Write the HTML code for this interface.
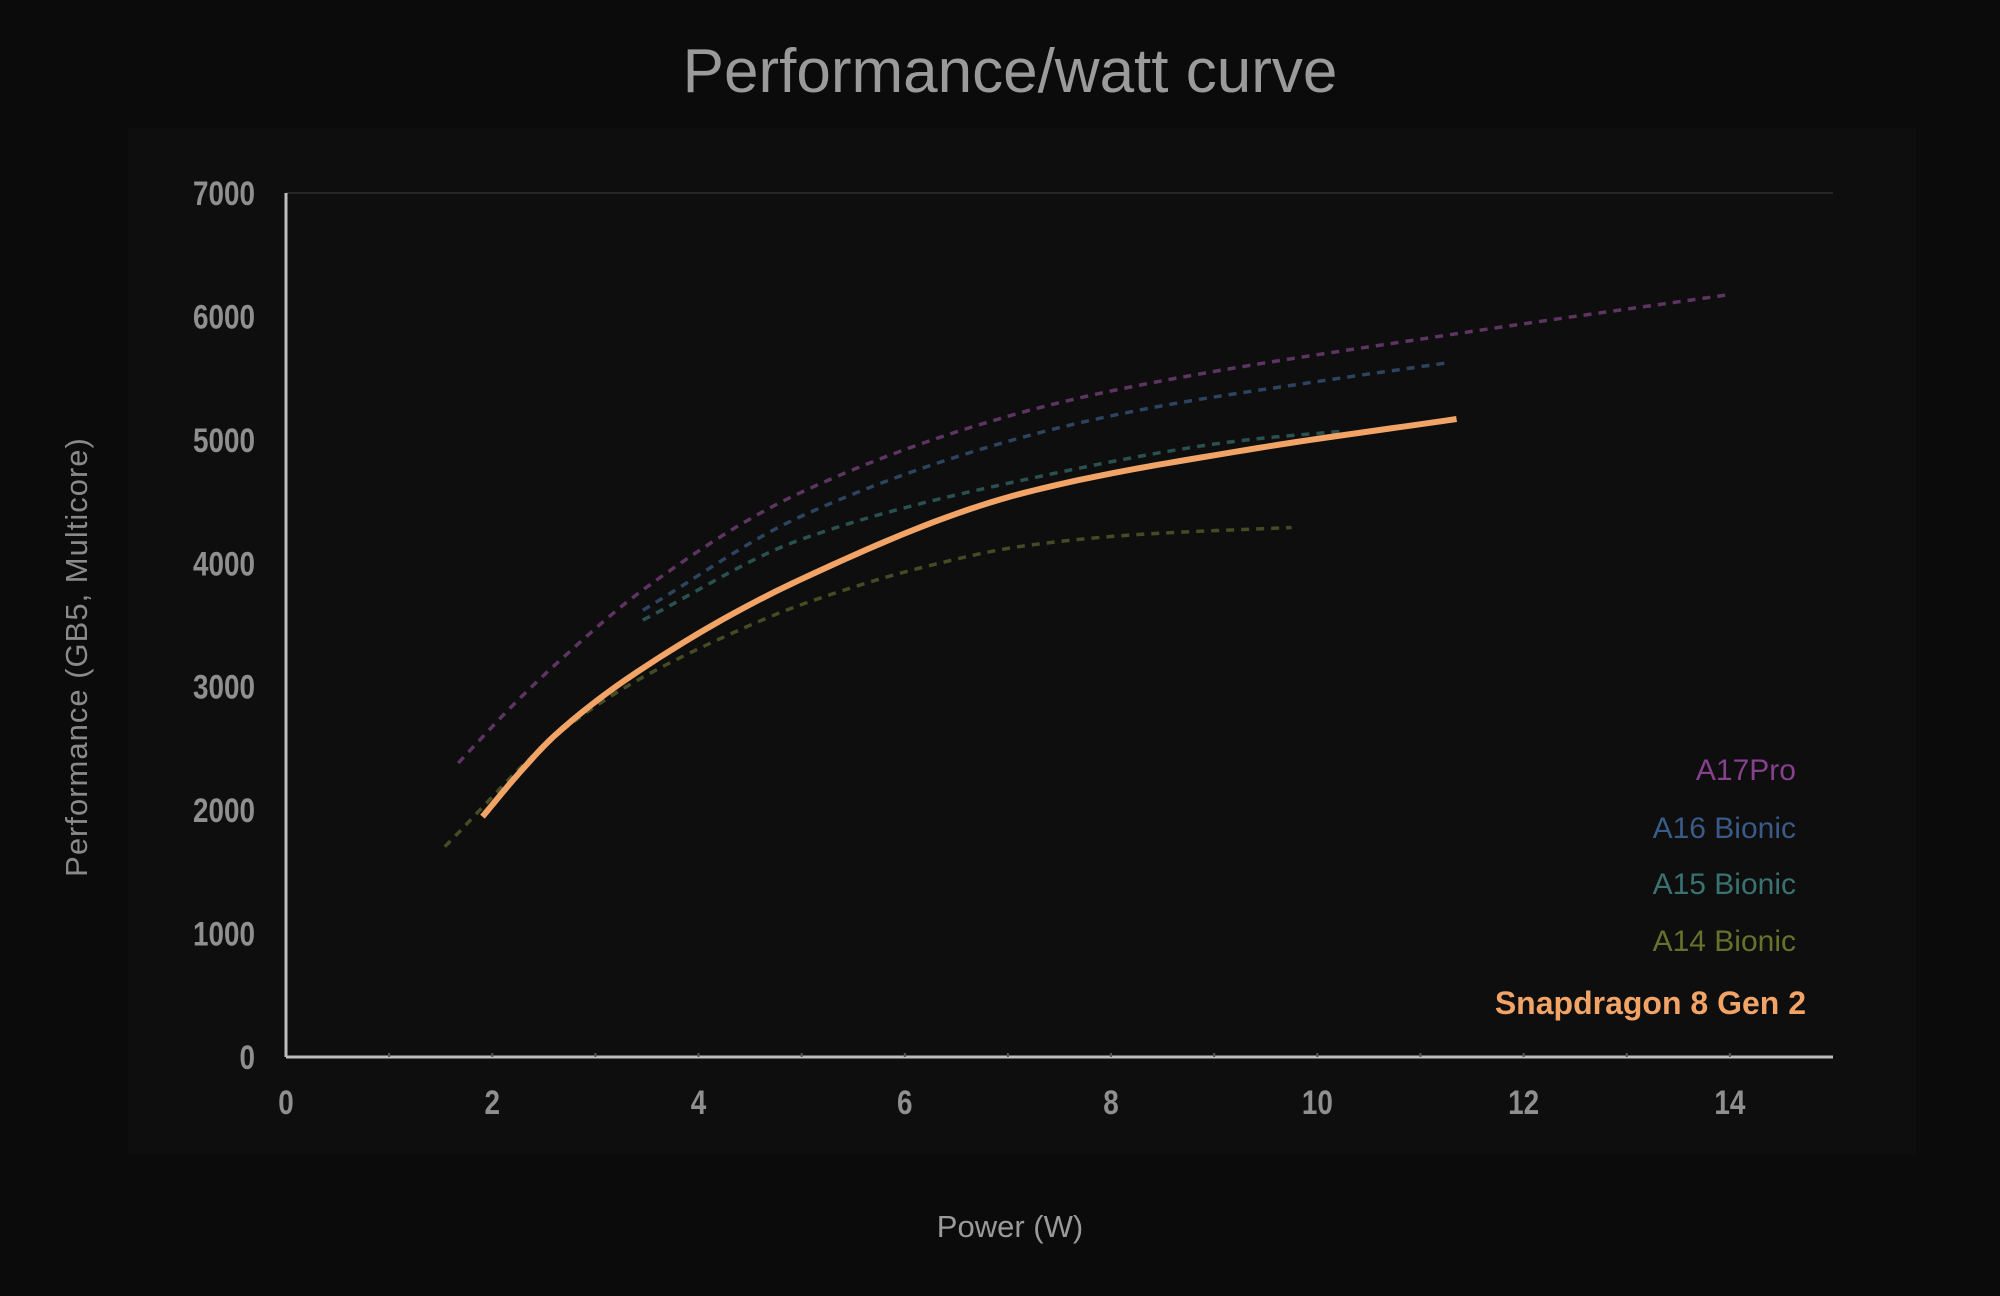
<!DOCTYPE html>
<html><head><meta charset="utf-8"><style>
html,body{margin:0;padding:0;background:#0b0b0b;}
svg{display:block;}
</style></head><body>
<svg id="chart" width="2000" height="1296" viewBox="0 0 2000 1296" xmlns="http://www.w3.org/2000/svg">
<rect x="0" y="0" width="2000" height="1296" fill="#0b0b0b"/>
<rect x="128" y="128" width="1788" height="1026" fill="#0e0e0e"/>
<text x="1010" y="92" text-anchor="middle" font-family="Liberation Sans, sans-serif" font-size="62" fill="#9a9a9a">Performance/watt curve</text>
<text transform="translate(87,657) rotate(-90)" text-anchor="middle" font-family="Liberation Sans, sans-serif" font-size="31" letter-spacing="1" fill="#8a8a8a">Performance (GB5, Multicore)</text>
<text x="1010" y="1237" text-anchor="middle" font-family="Liberation Sans, sans-serif" font-size="31" fill="#9a9a9a">Power (W)</text>
<g id="axes"></g>
<g id="series"></g>
<g id="legend"></g>
</svg>
<script>
const xTicks = [0,2,4,6,8,10,12,14];
const yTicks = [0,1000,2000,3000,4000,5000,6000,7000];
const a17x = [1.67,2.2,2.6,3.46,4.98,7.15,8.38,11.27,14.02];
const a17y = [2382,2850,3170,3784,4569,5226,5460,5850,6180];
const a16x = [3.46,4.98,7.15,8.38,10.1,11.27];
const a16y = [3620,4375,5023,5258,5485,5625];
const a15x = [3.46,4.98,7.15,9.31,10.27];
const a15y = [3540,4189,4675,4999,5072];
const a14x = [1.54,2.6,3.3,4.33,4.98,6.28,7.15,8.3,9.75];
const a14y = [1704,2593,3000,3435,3660,3990,4140,4235,4290];
const sdx = [1.905,2.25,2.6,3.46,4.98,7.15,9.31,11.35];
const sdy = [1947,2290,2600,3150,3865,4569,4918,5169];
const legendNames = ["A17Pro","A16 Bionic","A15 Bionic","A14 Bionic","Snapdragon 8 Gen 2"];

const NS="http://www.w3.org/2000/svg";
const X0=286, X1=1833, XMAX=15, Y0=1057, YT=193, YMAX=7000;
const sx=v=>X0+(v/XMAX)*(X1-X0);
const sy=v=>Y0-(v/YMAX)*(Y0-YT);
function mk(tag,attrs,parent){const e=document.createElementNS(NS,tag);for(const k in attrs)e.setAttribute(k,attrs[k]);parent.appendChild(e);return e;}
const axes=document.getElementById('axes');
let g=mk('line',{x1:X0,y1:sy(7000),x2:X1,y2:sy(7000),stroke:'#262626','stroke-width':2},axes);


let ya=mk('line',{x1:X0,y1:YT,x2:X0,y2:Y0,stroke:'#bdbdbd','stroke-width':3},axes);


let xa=mk('line',{x1:X0,y1:Y0,x2:X1,y2:Y0,stroke:'#bdbdbd','stroke-width':3},axes);


for(let i=1;i<XMAX;i++){
  const t=mk('line',{x1:sx(i),y1:Y0,x2:sx(i),y2:Y0-4,stroke:'#555','stroke-width':2},axes);
  
  
}
xTicks.forEach(v=>{
  const t=mk('text',{x:sx(v),y:Y0+57,'text-anchor':'middle','font-family':'Liberation Sans, sans-serif','font-size':34,'font-weight':'bold',fill:'#8f8f8f',transform:`translate(${sx(v)},0) scale(0.82,1) translate(${-sx(v)},0)`},axes);
  t.textContent=v;
  
  
});
yTicks.forEach(v=>{
  const t=mk('text',{x:255,y:sy(v)+12,'text-anchor':'end','font-family':'Liberation Sans, sans-serif','font-size':34,'font-weight':'bold',fill:'#8f8f8f',transform:`translate(255,0) scale(0.82,1) translate(-255,0)`},axes);
  t.textContent=v;
  
  
});
// monotone cubic (Fritsch-Carlson) interpolation in data space
function pathD(xs,ys){
  const n=xs.length, d=[], m=[];
  for(let i=0;i<n-1;i++) d.push((ys[i+1]-ys[i])/(xs[i+1]-xs[i]));
  m[0]=d[0]; m[n-1]=d[n-2];
  for(let i=1;i<n-1;i++){
    if(d[i-1]*d[i]<=0) m[i]=0;
    else { const w1=2*(xs[i+1]-xs[i])+(xs[i]-xs[i-1]), w2=(xs[i+1]-xs[i])+2*(xs[i]-xs[i-1]); m[i]=(w1+w2)/(w1/d[i-1]+w2/d[i]); }
  }
  let path=`M${sx(xs[0])},${sy(ys[0])}`;
  for(let i=0;i<n-1;i++){
    const h=xs[i+1]-xs[i];
    for(let k=1;k<=20;k++){
      const t=k/20, t2=t*t, t3=t2*t;
      const y=(2*t3-3*t2+1)*ys[i]+(t3-2*t2+t)*h*m[i]+(-2*t3+3*t2)*ys[i+1]+(t3-t2)*h*m[i+1];
      path+=` L${sx(xs[i]+t*h).toFixed(2)},${sy(y).toFixed(2)}`;
    }
  }
  return path;
}
const ser=document.getElementById('series');
const sets=[[a17x,a17y,'#5e3462','a17pro-line'],[a16x,a16y,'#2c4460','a16-bionic-line'],[a15x,a15y,'#2b5050','a15-bionic-line'],[a14x,a14y,'#434c24','a14-bionic-line']];
sets.forEach(s=>{
  const p=mk('path',{d:pathD(s[0],s[1]),fill:'none',stroke:s[2],'stroke-width':3.5,'stroke-dasharray':'8 7'},ser);
  
  
});
const sp=mk('path',{d:pathD(sdx,sdy),fill:'none',stroke:'#f2a466','stroke-width':6,'stroke-linecap':'butt','stroke-linejoin':'round'},ser);


const leg=document.getElementById('legend');
const lcol=['#86408e','#3a5a88','#3a7272','#65722c','#f2a466'];
const ly=[780,838,894,951,1014];
legendNames.forEach((n,i)=>{
  const last=i===4;
  const t=mk('text',{x:last?1806:1796,y:ly[i],'text-anchor':'end','font-family':'Liberation Sans, sans-serif','font-size':last?32:30,'font-weight':last?'bold':'normal',fill:lcol[i]},leg);
  t.textContent=n;
  
  
});
</script>
</body></html>
